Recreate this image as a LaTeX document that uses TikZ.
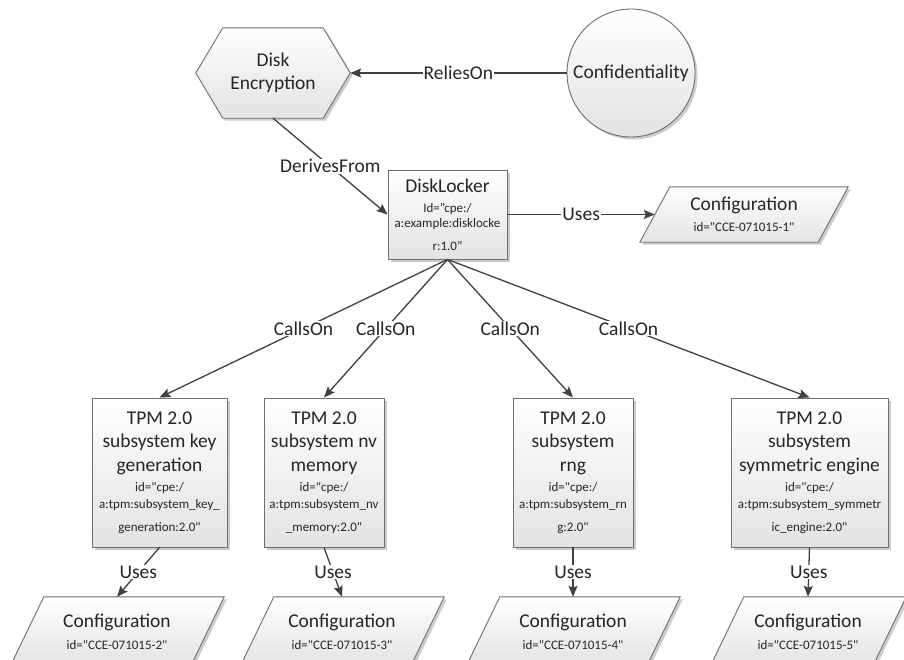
\documentclass[tikz,border=0pt]{standalone}
\usepackage{fontspec}
\setmainfont{Carlito}[Ligatures=TeXOff]
\usetikzlibrary{calc,arrows.meta,shadows}
\pgfdeclarelayer{bg}
\pgfsetlayers{bg,main}
\definecolor{ink}{HTML}{262626}
\definecolor{edge}{HTML}{404040}
\definecolor{rim}{HTML}{6E6E6E}
\newcommand\idfont{\fontsize{13}{16}\selectfont}
% parallelogram behind a named node: #1 node, #2 half of the horizontal slant
\newcommand\slantbox[2]{%
  \begin{pgfonlayer}{bg}
    \path[body] ($(#1.north west)+(#2,0)$) -- ($(#1.north east)+(#2,0)$)
      -- ($(#1.south east)+(-#2,0)$) -- ($(#1.south west)+(-#2,0)$) -- cycle;
  \end{pgfonlayer}}
\tikzset{
  body/.style={draw=rim, line width=0.9pt, top color=white, bottom color=black!11,
    drop shadow={shadow xshift=2.5pt, shadow yshift=-2.5pt, opacity=0.2, fill=black}},
  boxnode/.style={body, rectangle, align=center, inner sep=2pt, text=ink,
    font=\fontsize{19.5}{23.5}\selectfont},
  holder/.style={rectangle, align=center, inner sep=0pt, text=ink,
    font=\fontsize{19.5}{23.5}\selectfont},
  link/.style={draw=edge, line width=1.3pt, -{Stealth[length=11pt,width=9pt,inset=2pt]}},
  tag/.style={fill=white, inner sep=1pt, text=ink, font=\fontsize{19.5}{23.5}\selectfont},
}
\begin{document}
\begin{tikzpicture}[x=1pt,y=-1pt]
\useasboundingbox (0,0) rectangle (904,659);
\clip (0,0) rectangle (904,659);

% top row: concept and property
\node[holder, minimum width=154pt, minimum height=90pt] (hex) at (273,73) {Disk\\Encryption};
\begin{pgfonlayer}{bg}
  \path[body] ($(hex.north west)+(27,0)$) -- ($(hex.north east)+(-27,0)$) -- (hex.east)
    -- ($(hex.south east)+(-27,0)$) -- ($(hex.south west)+(27,0)$) -- (hex.west) -- cycle;
\end{pgfonlayer}
\node[boxnode, circle, minimum size=128pt, inner sep=0pt] (conf) at (631,73) {Confidentiality};

% application
\node[boxnode, minimum width=119pt, minimum height=89pt] (dl) at (447.5,214.5)
  {DiskLocker\\[-3.5pt] {\idfont Id=”cpe:/}\\[-8.5pt] {\idfont a:example:disklocke}\\[-0.5pt] {\idfont r:1.0”}};
\node[holder, minimum width=178pt, minimum height=55pt] (c0) at (744,214.5)
  {Configuration\\[-2pt] {\idfont id="CCE-071015-1"}};
\slantbox{c0}{15}

% TPM subsystems
\node[boxnode, minimum width=135pt, minimum height=149pt] (t1) at (159.5,472.5)
  {TPM 2.0\\ subsystem key\\ generation\\[-3.5pt] {\idfont id="cpe:/}\\[-6.5pt]
   {\idfont a:tpm:subsystem\_key\_}\\[-0.5pt] {\idfont generation:2.0"}};
\node[boxnode, minimum width=120pt, minimum height=149pt] (t2) at (324,472.5)
  {TPM 2.0\\ subsystem nv\\ memory\\[-3.5pt] {\idfont id="cpe:/}\\[-6.5pt]
   {\idfont a:tpm:subsystem\_nv}\\[-0.5pt] {\idfont \_memory:2.0"}};
\node[boxnode, minimum width=120pt, minimum height=149pt] (t3) at (573,472.5)
  {TPM 2.0\\ subsystem\\ rng\\[-3.5pt] {\idfont id="cpe:/}\\[-6.5pt]
   {\idfont a:tpm:subsystem\_rn}\\[-0.5pt] {\idfont g:2.0"}};
\node[boxnode, minimum width=157pt, minimum height=149pt] (t4) at (809.5,472.5)
  {TPM 2.0\\ subsystem\\ symmetric engine\\[-3.5pt] {\idfont id="cpe:/}\\[-6.5pt]
   {\idfont a:tpm:subsystem\_symmetr}\\[-0.5pt] {\idfont ic\_engine:2.0"}};

% configurations of the subsystems
\node[holder, minimum width=180pt, minimum height=70pt] (c1) at (117,632)
  {Configuration\\[-2pt] {\idfont id="CCE-071015-2"}};
\slantbox{c1}{17}
\node[holder, minimum width=170pt, minimum height=70pt] (c2) at (342,632)
  {Configuration\\[-2pt] {\idfont id="CCE-071015-3"}};
\slantbox{c2}{17}
\node[holder, minimum width=180pt, minimum height=70pt] (c3) at (573,632)
  {Configuration\\[-2pt] {\idfont id="CCE-071015-4"}};
\slantbox{c3}{17}
\node[holder, minimum width=162pt, minimum height=70pt] (c4) at (808,632)
  {Configuration\\[-2pt] {\idfont id="CCE-071015-5"}};
\slantbox{c4}{17}

% relations
\draw[link] (conf) -- node[tag] {ReliesOn} (hex.east);
\draw[link] (hex.south) -- node[tag] {DerivesFrom} (dl.west);
\draw[link] (dl.east) -- node[tag] {Uses} (c0.west);
\draw[link] (dl.south) -- node[tag] {CallsOn} (t1.north);
\draw[link] (dl.south) -- node[tag] {CallsOn} (t2.north);
\draw[link] (dl.south) -- node[tag] {CallsOn} (t3.north);
\draw[link] (dl.south) -- node[tag] {CallsOn} (t4.north);
\draw[link] (t1.south) -- node[tag] {Uses} (c1.north);
\draw[link] (t2.south) -- node[tag] {Uses} (c2.north);
\draw[link] (t3.south) -- node[tag] {Uses} (c3.north);
\draw[link] (t4.south) -- node[tag] {Uses} (c4.north);
\end{tikzpicture}
\end{document}
